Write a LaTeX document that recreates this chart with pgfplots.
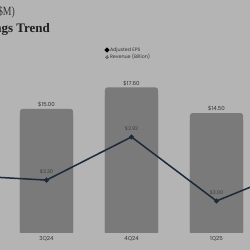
\documentclass[border=0pt]{standalone}
\usepackage{pgfplots}
\pgfplotsset{compat=1.18}
\usepackage{fontspec}
\setmainfont{Poppins}
\newfontfamily\titlefont{Liberation Serif}
\newfontfamily\subfont[FakeStretch=0.78]{Liberation Serif}
\definecolor{bg}{HTML}{B4B4B4}
\definecolor{barc}{HTML}{7A7A7A}
\definecolor{linec}{HTML}{1C2A3A}
\definecolor{txt}{HTML}{333333}
\definecolor{lbl}{HTML}{404040}
\definecolor{revdot}{HTML}{707070}
\begin{document}
\begin{tikzpicture}[x=1pt,y=1pt]
\useasboundingbox (0,-17) rectangle (250,233);
\fill[bg] (0,-17) rectangle (250,233);
\clip (0,-17) rectangle (250,233);
\node[anchor=base east, inner sep=0pt, font=\subfont\fontsize{12.5}{14}\selectfont, text=txt] at (15,218) {Revenue \& EPS (\$M)};
\node[anchor=base east, inner sep=0pt, font=\titlefont\bfseries\fontsize{13}{15}\selectfont, text=black!88] at (50,201) {Quarterly Earnings Trend};
\begin{axis}[at={(0,0)}, anchor=south west, scale only axis, width=250pt, height=233pt,
  xmin=-0.547, xmax=2.394, ymin=0, ymax=28.17,
  axis line style={draw=none}, tick style={draw=none}, ytick=\empty,
  xtick={0,1,2}, xticklabels={3Q24,4Q24,1Q25},
  xticklabel style={font=\fontsize{5.5}{6}\selectfont, text=txt, inner sep=0pt, anchor=center, yshift=-6pt},
  /pgf/number format/assume math mode=true,
  clip=true]
\addplot[ybar, bar width=0.624, bar shift=0pt, fill=barc, draw=none, rounded corners=2.5pt,
  nodes near coords={\$\pgfmathprintnumber[fixed,fixed zerofill,precision=2]{\pgfplotspointmeta}},
  every node near coord/.append style={font=\fontsize{5.5}{6}\selectfont, text=txt, inner sep=0pt, anchor=south, yshift=1.5pt}]
  coordinates {(0,15.0) (1,17.6) (2,14.5)};
\addplot[ybar, bar width=0.624, bar shift=0pt, fill=barc, draw=none, forget plot]
  coordinates {(0,14.0) (1,16.6) (2,13.5)};
\end{axis}
\begin{axis}[at={(0,0)}, anchor=south west, scale only axis, width=250pt, height=233pt,
  xmin=-0.547, xmax=2.394, ymin=2.540, ymax=5.888, hide axis, clip=true,
  /pgf/number format/assume math mode=true,
  legend style={at={(0.418,0.80)}, anchor=north west, draw=none, fill=none,
    font=\fontsize{4.8}{5.5}\selectfont, text=txt, inner sep=0pt, row sep=0.4pt,
    nodes={inner sep=0.6pt, anchor=west}},
  legend cell align=left]
\addplot[linec, line width=1.5pt, mark=*, mark size=1.6pt, mark options={fill=linec, draw=linec},
  legend image code/.code={\fill[black] (1.5pt,0pt) circle (1.6pt);},
  nodes near coords={\$\pgfmathprintnumber[fixed,fixed zerofill,precision=2]{\pgfplotspointmeta}},
  every node near coord/.append style={font=\fontsize{5}{5.5}\selectfont, text=lbl, inner sep=0pt, anchor=south, yshift=5pt}]
  coordinates {(-1,3.37) (0,3.30) (1,3.92) (2,3.00) (3,3.50)};
\addlegendentry{Adjusted EPS}
\addlegendimage{line width=0pt, legend image code/.code={\fill[revdot] (1.5pt,0pt) circle (1.7pt);}}
\addlegendentry{Revenue (Billion)}
\end{axis}
\end{tikzpicture}
\end{document}
